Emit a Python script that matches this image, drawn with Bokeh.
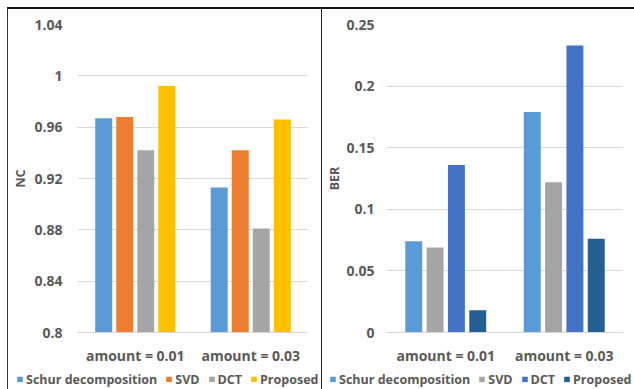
from bokeh.plotting import figure
from bokeh.layouts import row, column
from bokeh.models import (ColumnDataSource, FixedTicker, CustomJSTickFormatter,
                          Legend, LegendItem)
from bokeh.transform import dodge
from bokeh.embed import file_html
from bokeh.resources import INLINE

# --- data -------------------------------------------------------------
groups = ["amount = 0.01", "amount = 0.03"]
methods = ["Schur decomposition", "SVD", "DCT", "Proposed"]

nc_schur = [0.967, 0.913]
nc_svd = [0.968, 0.942]
nc_dct = [0.942, 0.881]
nc_proposed = [0.992, 0.966]

ber_schur = [0.074, 0.179]
ber_svd = [0.069, 0.122]
ber_dct = [0.136, 0.233]
ber_proposed = [0.018, 0.076]

nc_ticks = [0.8, 0.84, 0.88, 0.92, 0.96, 1.0, 1.04]
ber_ticks = [0.0, 0.05, 0.1, 0.15, 0.2, 0.25]

nc_colors = ["#5B9BD5", "#ED7D31", "#A5A5A5", "#FFC000"]
ber_colors = ["#5B9BD5", "#A5A5A5", "#4472C4", "#255E91"]

FONT = "Open Sans"
TXT = "#595959"
GRID = "#D9D9D9"


def make_chart(series, colors, ylabel, yrange, ticks, width,
               left, right, bar_w, step, tick_standoff, label_standoff):
    src = ColumnDataSource(dict(group=groups, s0=series[0], s1=series[1],
                                s2=series[2], s3=series[3]))
    p = figure(x_range=groups, y_range=yrange, width=width, height=360,
               output_backend="svg", toolbar_location=None,
               min_border_left=left, min_border_right=right,
               min_border_top=15, min_border_bottom=37)
    p.outline_line_color = None
    p.frame_align = False

    offsets = [-1.5 * step, -0.5 * step, 0.5 * step, 1.5 * step]
    for i, (off, col) in enumerate(zip(offsets, colors)):
        p.vbar(x=dodge("group", off, range=p.x_range), top=f"s{i}",
               bottom=yrange[0], width=bar_w, source=src,
               fill_color=col, line_color=None)

    # y axis
    p.yaxis.ticker = FixedTicker(ticks=ticks)
    p.yaxis.formatter = CustomJSTickFormatter(
        code="return String(+tick.toFixed(2));")
    p.yaxis.axis_line_color = None
    p.yaxis.major_tick_out = 0
    p.yaxis.major_tick_in = 0
    p.yaxis.minor_tick_out = 0
    p.yaxis.minor_tick_in = 0
    p.yaxis.major_label_text_font = FONT
    p.yaxis.major_label_text_font_style = "bold"
    p.yaxis.major_label_text_font_size = "14px"
    p.yaxis.major_label_text_color = TXT
    p.yaxis.major_label_standoff = tick_standoff
    p.yaxis.axis_label = ylabel
    p.yaxis.axis_label_text_font = FONT
    p.yaxis.axis_label_text_font_style = "bold"
    p.yaxis.axis_label_text_font_size = "12.5px"
    p.yaxis.axis_label_text_color = TXT
    p.yaxis.axis_label_standoff = label_standoff

    # x axis
    p.xaxis.axis_line_color = GRID
    p.xaxis.major_tick_out = 0
    p.xaxis.major_tick_in = 0
    p.xaxis.minor_tick_out = 0
    p.xaxis.minor_tick_in = 0
    p.xaxis.major_label_text_font = FONT
    p.xaxis.major_label_text_font_style = "bold"
    p.xaxis.major_label_text_font_size = "14px"
    p.xaxis.major_label_text_color = TXT
    p.xaxis.major_label_standoff = 13

    p.xgrid.grid_line_color = None
    p.ygrid.grid_line_color = GRID
    p.ygrid.ticker = FixedTicker(ticks=ticks)
    return p


def make_legend(colors, width, margin):
    # a strip holding only the series legend, under the chart
    lg = figure(width=width, height=20, output_backend="svg",
                toolbar_location=None, min_border=0,
                x_range=(0, 1), y_range=(0, 1))
    lg.frame_align = False
    lg.axis.visible = False
    lg.grid.grid_line_color = None
    lg.outline_line_color = None
    items = []
    for name, col in zip(methods, colors):
        # swatch renderer: its single bar sits outside the visible range
        r = lg.vbar(x=[-5], top=[-5], bottom=-6, width=0.1,
                    fill_color=col, line_color=None)
        items.append(LegendItem(label=name, renderers=[r]))
    legend = Legend(items=items, orientation="horizontal", location="left",
                    border_line_color=None, background_fill_alpha=0,
                    label_text_font=FONT, label_text_font_style="bold",
                    label_text_font_size="12.5px", label_text_color=TXT,
                    glyph_width=7, glyph_height=7, label_standoff=3,
                    spacing=8, padding=0, margin=margin, label_height=14,
                    label_width=10)
    lg.add_layout(legend, "center")
    return lg


nc_chart = make_chart([nc_schur, nc_svd, nc_dct, nc_proposed], nc_colors,
                      "NC", (0.8, 1.04), nc_ticks, 313, 69, 13, 0.147, 0.182,
                      15, 2)
ber_chart = make_chart([ber_schur, ber_svd, ber_dct, ber_proposed],
                       ber_colors, "BER", (0.0, 0.25), ber_ticks, 312, 64, 11,
                       0.143, 0.18, 12, 0)

left_col = column(nc_chart, make_legend(nc_colors, 313, 8), spacing=0,
                  styles={"border-top": "2px solid #111",
                          "border-left": "1px solid #333"})
right_col = column(ber_chart, make_legend(ber_colors, 312, 7), spacing=0,
                   styles={"border-top": "2px solid #111",
                           "border-left": "1px solid #222"})

layout = row(left_col, right_col, spacing=0,
             styles={"margin-left": "7px", "margin-top": "7px"})

open("out.html", "w").write(file_html(layout, INLINE))
